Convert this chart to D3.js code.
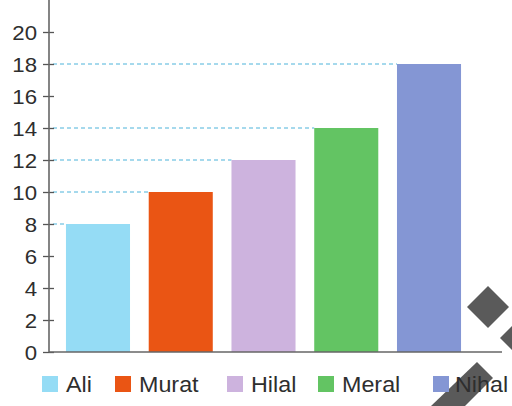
<!DOCTYPE html>
<html>
<head>
<meta charset="utf-8">
<script src="https://cdn.jsdelivr.net/npm/d3@7"></script>
<style>
  body { margin: 0; background: #fff; }
  text { font-family: "Liberation Sans", Arial, sans-serif; fill: #2e2e2e; }
</style>
</head>
<body>
<svg id="chart" width="512" height="406"></svg>
<script>
var names = ["Ali", "Murat", "Hilal", "Meral", "Nihal"];
var values = [8, 10, 12, 14, 18];
var colors = ["#95dcf5", "#ea5514", "#cdb3de", "#63c463", "#8496d4"];
var yTicks = [0, 2, 4, 6, 8, 10, 12, 14, 16, 18, 20];

var svg = d3.select("#chart");
var axisX = 49, baseY = 352;
var stretch = 1.06;

var x = d3.scaleBand().domain(names).range([axisX, 478])
  .paddingInner(0.226).paddingOuter(0.205);
var y = d3.scaleLinear().domain([0, 20]).range([baseY, 32]);

// dashed guide lines from axis to bar tops
svg.selectAll("line.guide").data(names).enter().append("line")
  .attr("class", "guide")
  .attr("x1", axisX + 4)
  .attr("x2", function(d){ return x(d); })
  .attr("y1", function(d,i){ return y(values[i]); })
  .attr("y2", function(d,i){ return y(values[i]); })
  .attr("stroke", "#4cb3da")
  .attr("stroke-width", 1)
  .attr("stroke-dasharray", "4,3");

svg.selectAll("rect.bar").data(names).enter().append("rect")
  .attr("class", "bar")
  .attr("x", function(d){ return x(d); })
  .attr("width", x.bandwidth())
  .attr("y", function(d,i){ return y(values[i]); })
  .attr("height", function(d,i){ return baseY - y(values[i]); })
  .attr("fill", function(d,i){ return colors[i]; });

// y axis
var yAxis = d3.axisLeft(y).tickValues(yTicks).tickSizeInner(0).tickSizeOuter(0).tickPadding(0);
var g = svg.append("g").attr("transform", "translate(" + axisX + ",0)").call(yAxis);
g.select(".domain").remove();
g.selectAll(".tick line").attr("x1", -6).attr("x2", 5).attr("stroke", "#555").attr("stroke-width", 1.3);
g.selectAll(".tick text")
  .style("font-size", "21px")
  .attr("x", -12 / stretch)
  .attr("dy", "0.36em")
  .attr("transform", "scale(" + stretch + ",1)");
g.append("line").attr("x1", 0).attr("x2", 0).attr("y1", 0).attr("y2", baseY)
  .attr("stroke", "#666").attr("stroke-width", 1.6);

// baseline
svg.append("line").attr("x1", axisX).attr("x2", 502).attr("y1", baseY).attr("y2", baseY)
  .attr("stroke", "#666").attr("stroke-width", 1.6);

// decorative marks
var deco = svg.append("g").attr("fill", "#5a5a5a");
deco.append("path").attr("d", "M488,286 L509,307 L488,328 L467,307 Z");
deco.append("path").attr("d", "M521,317 L542,338 L521,359 L500,338 Z");

// legend
var legX = [42, 115, 227, 318, 433];
var leg = svg.selectAll("g.leg").data(names).enter().append("g")
  .attr("class", "leg")
  .attr("transform", function(d,i){ return "translate(" + legX[i] + ",376)"; });
leg.append("rect").attr("width", 16).attr("height", 16)
  .attr("fill", function(d,i){ return colors[i]; });

deco.append("path").attr("d", "M477,362 L493,378 L465,406 L431,406 Z").raise();

leg.append("text")
  .attr("x", function(d,i){ return (i == 4 ? 22 : 24) / 1.06; })
  .attr("y", 16)
  .attr("transform", "scale(1.06,1)")
  .style("font-size", "22px")
  .text(function(d){ return d; });
</script>
</body>
</html>
